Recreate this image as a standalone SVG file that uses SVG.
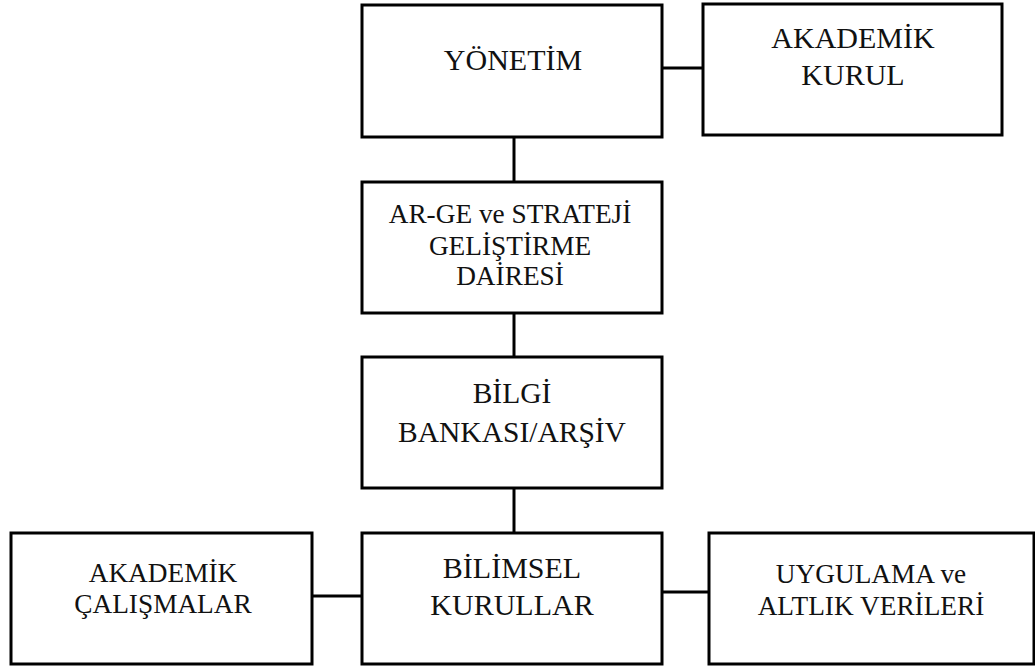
<svg xmlns="http://www.w3.org/2000/svg" width="1035" height="671" viewBox="0 0 1035 671">
<style>
.box{fill:#fff;stroke:#000;stroke-width:3}
.ln{stroke:#000;stroke-width:3;fill:none}
text{font-family:"Liberation Serif","Times New Roman",serif;font-size:28px;fill:#111;text-anchor:middle}
.l{font-size:30px}
.m{font-size:29.5px}
.s{font-size:27.3px}
</style>
<rect width="1035" height="671" fill="#fff"/>
<g id="connectors">
<line class="ln" x1="514" y1="137" x2="514" y2="182"/>
<line class="ln" x1="662" y1="68" x2="703" y2="68"/>
<line class="ln" x1="514" y1="313" x2="514" y2="357"/>
<line class="ln" x1="514" y1="488" x2="514" y2="533"/>
<line class="ln" x1="312" y1="596" x2="362" y2="596"/>
<line class="ln" x1="662" y1="592" x2="709" y2="592"/>
</g>
<g id="yonetim">
<rect class="box" x="362" y="5" width="300" height="132"/>
<text class="l" x="513" y="70">YÖNETİM</text>
</g>
<g id="akademik-kurul">
<rect class="box" x="703" y="4" width="299" height="131"/>
<text class="l" x="853" y="48">AKADEMİK</text>
<text class="l" x="853" y="85">KURUL</text>
</g>
<g id="arge">
<rect class="box" x="362" y="182" width="300" height="131"/>
<text class="s" x="510" y="223">AR-GE ve STRATEJİ</text>
<text class="s" x="510" y="255">GELİŞTİRME</text>
<text class="s" x="510" y="285">DAİRESİ</text>
</g>
<g id="bilgi">
<rect class="box" x="362" y="357" width="300" height="131"/>
<text class="m" x="512" y="403">BİLGİ</text>
<text class="m" x="512" y="442">BANKASI/ARŞİV</text>
</g>
<g id="bilimsel">
<rect class="box" x="362" y="533" width="300" height="131"/>
<text class="l" x="512" y="578">BİLİMSEL</text>
<text class="l" x="512" y="615">KURULLAR</text>
</g>
<g id="akademik-calismalar">
<rect class="box" x="11" y="533" width="301" height="131"/>
<text class="s" x="163" y="582">AKADEMİK</text>
<text class="s" x="163" y="613">ÇALIŞMALAR</text>
</g>
<g id="uygulama">
<rect class="box" x="709" y="533" width="325" height="131"/>
<text class="s" x="871" y="583">UYGULAMA ve</text>
<text class="s" x="871" y="615">ALTLIK VERİLERİ</text>
</g>
</svg>
